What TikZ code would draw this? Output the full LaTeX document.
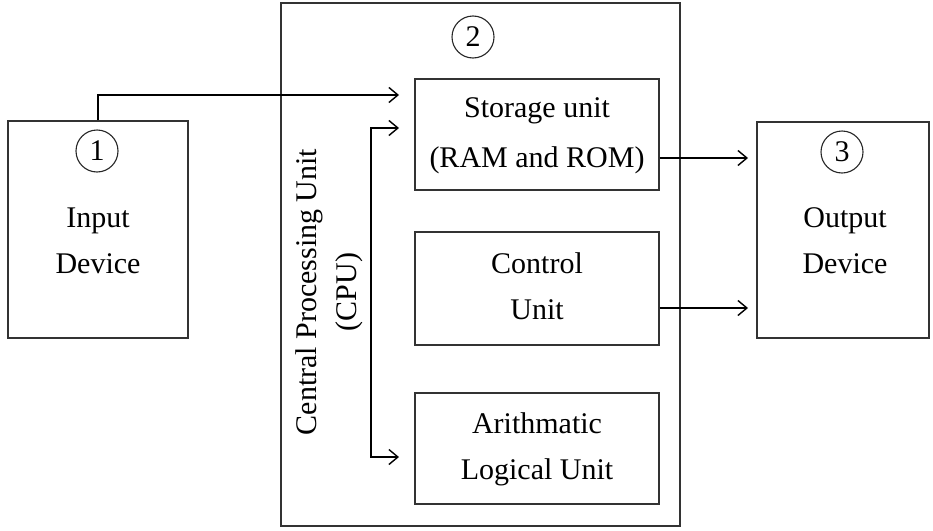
\documentclass[tikz,border=0pt]{standalone}
\usepackage{fontspec}
\setmainfont{Liberation Serif}
\usetikzlibrary{arrows.meta}
\begin{document}
\begin{tikzpicture}[x=1pt,y=-1pt,
  box/.style={draw=black!80, line width=1.3pt, inner sep=0pt},
  lbl/.style={font=\fontsize{30}{36}\selectfont, anchor=base, inner sep=0pt},
  num/.style={circle, draw=black!85, line width=1.1pt, minimum size=42pt,
              inner sep=0pt, font=\fontsize{30}{36}\selectfont},
  arr/.style={line width=1.8pt, -{Straight Barb[length=9pt,width=15pt,line width=1.4pt]}},
  dblarr/.style={line width=1.8pt,
    {Straight Barb[length=9pt,width=15pt,line width=1.4pt]}-{Straight Barb[length=9pt,width=15pt,line width=1.4pt]}},
]
\useasboundingbox (0,0) rectangle (933,530);

% outer blocks
\node[box, minimum width=180pt, minimum height=217pt] (inp) at (98,229.5) {};
\node[box, minimum width=172pt, minimum height=216pt] (outp) at (843,230) {};
\node[box, minimum width=399pt, minimum height=523pt] (cpu) at (480.5,264.5) {};

% units inside the CPU
\node[box, minimum width=244pt, minimum height=111pt] (st) at (537,134.5) {};
\node[box, minimum width=244pt, minimum height=113pt] (cu) at (537,288.5) {};
\node[box, minimum width=244pt, minimum height=111pt] (alu) at (537,448.5) {};

% numbered markers
\node[num] (c1) at (97,151) {1};
\node[num] (c2) at (473,37) {2};
\node[num] (c3) at (842,152) {3};

% labels
\node[lbl] (inA) at (98,227) {Input};
\node[lbl] (inB) at (98,273) {Device};
\node[lbl] (outA) at (845,227) {Output};
\node[lbl] (outB) at (845,273) {Device};
\node[lbl] (stA) at (537,117) {Storage unit};
\node[lbl] (stB) at (537,167) {(RAM and ROM)};
\node[lbl] (cuA) at (537,273) {Control};
\node[lbl] (cuB) at (537,319) {Unit};
\node[lbl] (aluA) at (537,433) {Arithmatic};
\node[lbl] (aluB) at (537,479) {Logical Unit};
\node[rotate=90, align=center, inner sep=0pt,
      font=\fontsize{30}{40}\selectfont] (cpuL) at (329,292)
      {Central Processing Unit\\(CPU)};

% connectors
\coordinate (inTip) at (399,95);
\draw[arr] (inp.north) |- (inTip);

\coordinate (brTop) at (371,128);
\coordinate (brBot) at (371,457);
\coordinate (stIn) at (399,128);
\coordinate (aluIn) at (399,457);
\draw[dblarr] (stIn) -- (brTop) -- (brBot) -- (aluIn);

\coordinate (toOutA) at (748,158);
\coordinate (toOutB) at (748,308);
\draw[arr] (st.east |- toOutA) -- (toOutA);
\draw[arr] (cu.east |- toOutB) -- (toOutB);
\end{tikzpicture}
\end{document}
